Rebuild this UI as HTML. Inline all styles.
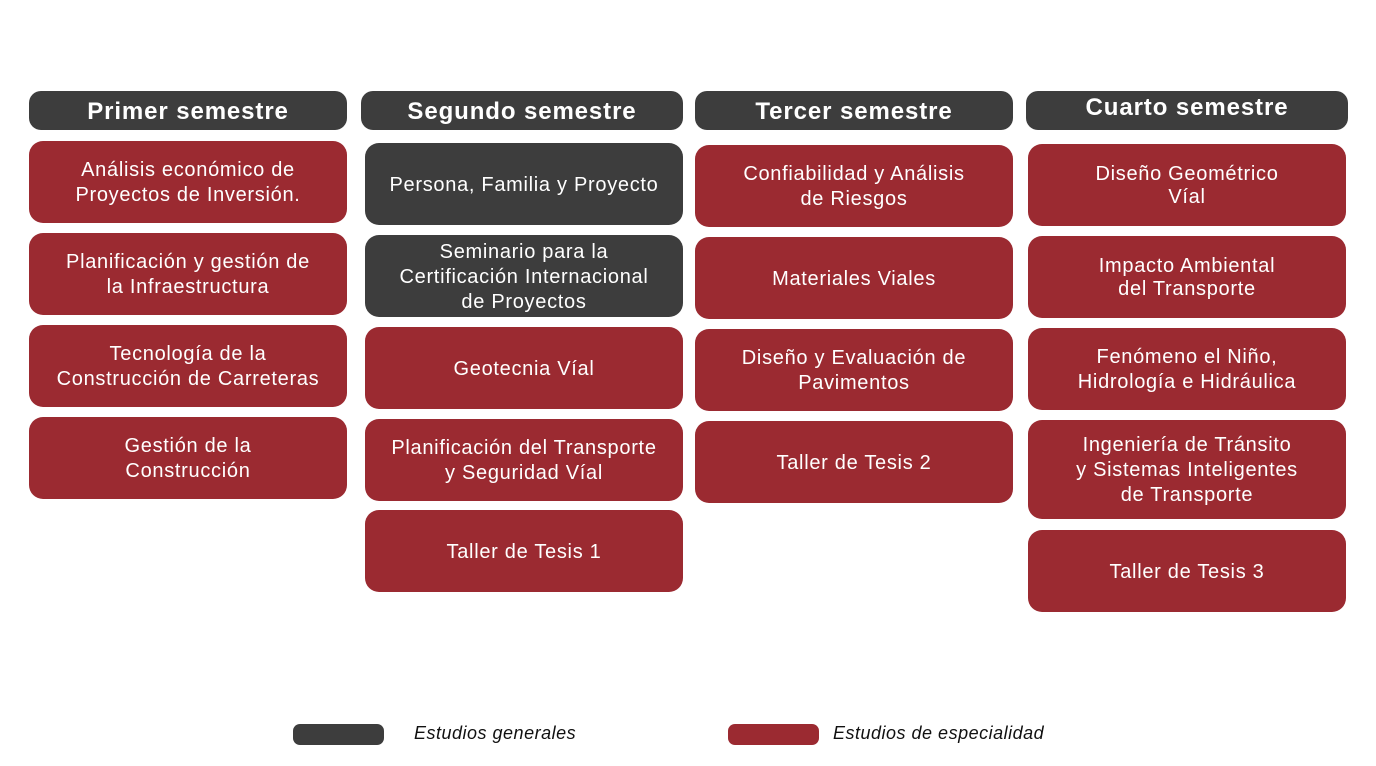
<!DOCTYPE html>
<html><head><meta charset="utf-8"><style>
body{margin:0;width:1376px;height:766px;background:#fff;position:relative;overflow:hidden;font-family:"Liberation Sans",sans-serif}
.b{position:absolute;border-radius:14px;color:#fff;display:flex;align-items:center;justify-content:center;text-align:center;font-size:20px;line-height:25px;letter-spacing:0.7px;box-sizing:border-box;padding-top:2px}
.h{background:#3d3d3d;font-weight:bold;font-size:24px;height:39px;top:91px;border-radius:12px;letter-spacing:0.9px}
.r{background:#9b2a31}
.g{background:#3d3d3d}
.l{position:absolute;font-style:italic;font-size:18px;color:#111;letter-spacing:0.5px}
</style></head><body>
<div class="b h" style="left:29px;width:318px">Primer semestre</div>
<div class="b h" style="left:361px;width:322px">Segundo semestre</div>
<div class="b h" style="left:695px;width:318px">Tercer semestre</div>
<div class="b h" style="left:1026px;width:322px;align-items:flex-start;padding-top:4px">Cuarto semestre</div>

<div class="b r" style="left:29px;width:318px;top:141px;height:82px">Análisis económico de<br>Proyectos de Inversión.</div>
<div class="b r" style="left:29px;width:318px;top:233px;height:82px">Planificación y gestión de<br>la Infraestructura</div>
<div class="b r" style="left:29px;width:318px;top:325px;height:82px">Tecnología de la<br>Construcción de Carreteras</div>
<div class="b r" style="left:29px;width:318px;top:417px;height:82px">Gestión de la<br>Construcción</div>

<div class="b g" style="left:365px;width:318px;top:143px;height:82px">Persona, Familia y Proyecto</div>
<div class="b g" style="left:365px;width:318px;top:235px;height:82px">Seminario para la<br>Certificación Internacional<br>de Proyectos</div>
<div class="b r" style="left:365px;width:318px;top:327px;height:82px">Geotecnia Víal</div>
<div class="b r" style="left:365px;width:318px;top:419px;height:82px">Planificación del Transporte<br>y Seguridad Víal</div>
<div class="b r" style="left:365px;width:318px;top:510px;height:82px">Taller de Tesis 1</div>

<div class="b r" style="left:695px;width:318px;top:145px;height:82px">Confiabilidad y Análisis<br>de Riesgos</div>
<div class="b r" style="left:695px;width:318px;top:237px;height:82px">Materiales Viales</div>
<div class="b r" style="left:695px;width:318px;top:329px;height:82px">Diseño y Evaluación de<br>Pavimentos</div>
<div class="b r" style="left:695px;width:318px;top:421px;height:82px">Taller de Tesis 2</div>

<div class="b r" style="left:1028px;width:318px;top:144px;height:82px;line-height:23px">Diseño Geométrico<br>Víal</div>
<div class="b r" style="left:1028px;width:318px;top:236px;height:82px;line-height:23px">Impacto Ambiental<br>del Transporte</div>
<div class="b r" style="left:1028px;width:318px;top:328px;height:82px">Fenómeno el Niño,<br>Hidrología e Hidráulica</div>
<div class="b r" style="left:1028px;width:318px;top:420px;height:99px">Ingeniería de Tránsito<br>y Sistemas Inteligentes<br>de Transporte</div>
<div class="b r" style="left:1028px;width:318px;top:530px;height:82px">Taller de Tesis 3</div>

<div style="position:absolute;left:293px;top:724px;width:91px;height:21px;border-radius:7px;background:#3d3d3d"></div>
<div class="l" style="left:414px;top:723px">Estudios generales</div>
<div style="position:absolute;left:728px;top:724px;width:91px;height:21px;border-radius:7px;background:#9b2a31"></div>
<div class="l" style="left:833px;top:723px">Estudios de especialidad</div>
</body></html>
